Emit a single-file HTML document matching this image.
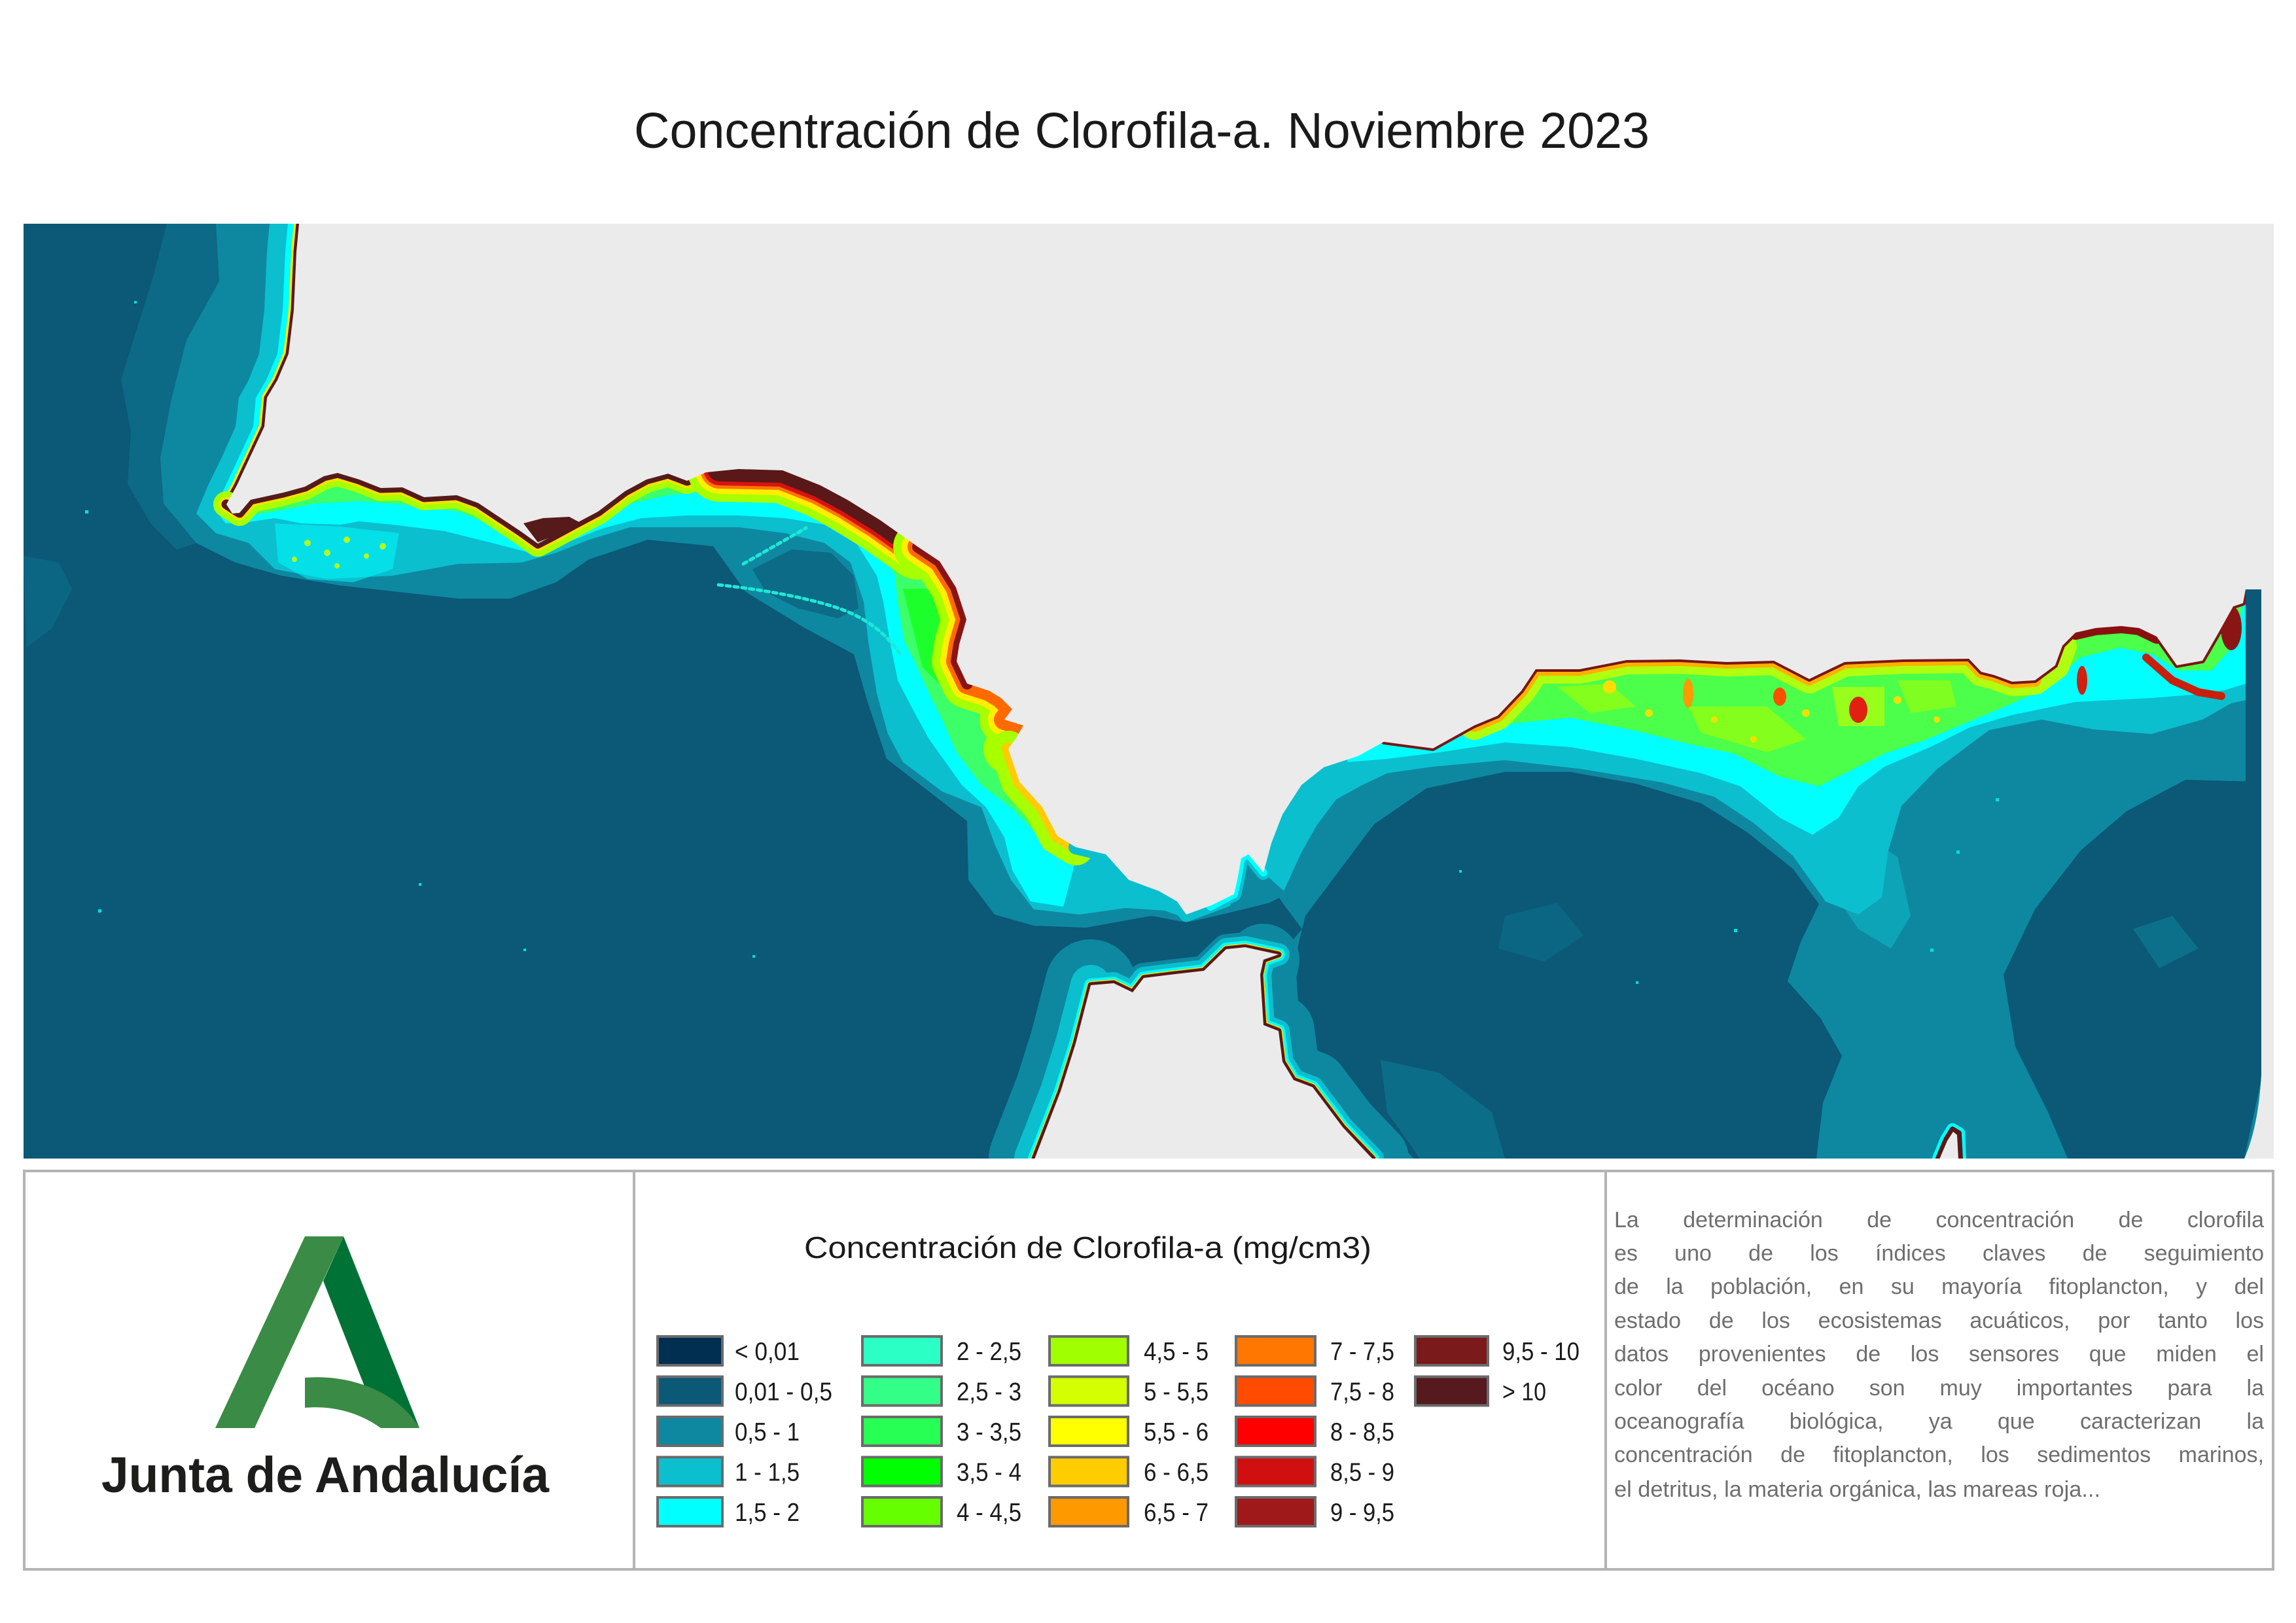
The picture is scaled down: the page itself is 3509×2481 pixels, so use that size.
<!DOCTYPE html>
<html><head><meta charset="utf-8">
<style>
html,body{margin:0;padding:0;background:#fff;}
body{width:3509px;height:2481px;position:relative;overflow:hidden;}
.p{position:absolute;left:2467px;width:993px;font-family:"Liberation Sans",sans-serif;font-size:34px;line-height:51.4px;height:51.4px;color:#6e6e6e;text-align:justify;text-align-last:justify;}
</style></head>
<body>
<svg width="3509" height="2481" viewBox="0 0 3509 2481" style="position:absolute;left:0;top:0" font-family="Liberation Sans, sans-serif">
<defs>
<clipPath id="dc"><path d="M36,342 H3456 V1640 Q3452,1720 3430,1771 H36 Z"/></clipPath>
<clipPath id="mc"><rect x="36" y="342" width="3439" height="1429"/></clipPath>
</defs>

<!-- Title -->
<text x="969" y="226" font-size="77" fill="#1a1a1a" textLength="1552" lengthAdjust="spacingAndGlyphs">Concentración de Clorofila-a. Noviembre 2023</text>

<!-- MAP -->
<rect x="36" y="342" width="3439" height="1429" fill="#ebebeb"/>
<g clip-path="url(#dc)" stroke-linejoin="round" stroke-linecap="round">
<rect x="36" y="342" width="3420" height="1429" fill="#0b5877"/>

<!-- Atlantic patchy teal offshore Portugal -->
<path d="M330,342 L255,342 235,420 210,500 185,580 200,660 195,740 230,800 270,840 300,830 250,770 245,700 262,610 285,520 335,430 Z" fill="#0e88a0" opacity="0.4"/>
<path d="M36,850 L90,860 110,900 80,960 40,990 Z" fill="#0e88a0" opacity="0.3"/>

<!-- Atlantic teal -->
<path d="M330,342 L335,430 285,520 262,610 245,700 250,770 300,830 360,860 430,880 520,895 610,905 700,915 780,915 850,890 900,855 990,825 1090,835 1140,905 1230,960 1305,1000 1325,1070 1355,1160 1420,1210 1478,1255 1480,1345 1520,1398 1580,1415 1660,1418 1760,1400 1813,1410 1850,1402 1900,1390 1940,1380 1960,1370 1960,1250 1700,1100 1500,800 700,600 600,342 Z" fill="#0e88a0"/>
<!-- Gulf inner darker patch -->
<path d="M1150,870 L1210,840 1270,845 1305,880 1312,930 1280,945 1220,930 1170,905 Z" fill="#0b5877" opacity="0.6"/>

<!-- Alboran teal -->
<path d="M1931,1334 L1960,1380 1990,1420 1960,1456 1954,1459 1980,1480 2030,1600 2098,1771 3456,1771 3456,900 1950,900 Z" fill="#0e88a0"/>
<!-- West gyre -->
<path d="M1995,1400 L2040,1340 2100,1260 2180,1205 2300,1180 2400,1180 2500,1198 2600,1228 2670,1272 2740,1328 2780,1382 2752,1440 2732,1500 2782,1556 2815,1614 2786,1686 2776,1771 2160,1771 2100,1700 2030,1640 1990,1580 1975,1500 1985,1440 Z" fill="#0b5877"/>
<path d="M2110,1620 L2200,1640 2280,1700 2300,1771 2170,1771 2120,1700 Z" fill="#0e88a0" opacity="0.45"/>
<path d="M2300,1400 L2380,1380 2420,1430 2360,1470 2290,1450 Z" fill="#0e88a0" opacity="0.3"/>
<!-- East gyre -->
<path d="M3456,1195 L3340,1192 3250,1240 3180,1300 3110,1390 3062,1490 3080,1600 3130,1700 3160,1771 3430,1771 3456,1650 Z" fill="#0b5877"/>
<path d="M3260,1420 L3320,1400 3360,1450 3300,1480 Z" fill="#0e88a0" opacity="0.5"/>

<!-- Atlantic 1-1.5 -->
<path d="M412,342 L408,385 404,474 396,541 380,581 365,608 360,652 340,697 318,742 300,785 330,815 380,830 420,870 500,885 600,880 700,862 797,860 850,845 900,825 963,806 1050,806 1129,806 1200,815 1260,830 1300,860 1320,920 1327,980 1340,1060 1357,1122 1380,1165 1440,1210 1500,1234 1520,1290 1545,1345 1580,1390 1650,1398 1720,1388 1780,1392 1813,1404 1850,1396 1880,1385 1900,1300 1700,1100 1500,800 700,600 600,342 Z" fill="#0bbfcf"/>

<!-- Alboran 1-1.5 -->
<path d="M1931,1334 L1962,1362 1988,1305 2012,1262 2042,1222 2082,1200 2120,1182 2190,1172 2300,1162 2420,1176 2540,1196 2620,1218 2680,1258 2740,1308 2790,1378 2840,1398 2876,1372 2886,1300 2906,1232 2960,1176 3040,1116 3120,1100 3200,1115 3288,1122 3366,1100 3410,1075 3456,1065 3456,900 1950,900 Z" fill="#0bbfcf"/>
<path d="M2760,1300 L2840,1270 2900,1310 2920,1400 2890,1450 2840,1420 Z" fill="#0bbfcf" opacity="0.5"/>

<!-- Atlantic cyan -->
<path d="M440,342 L436,385 432,474 424,541 407,581 391,608 387,652 366,697 345,742 328,778 345,800 380,798 420,792 460,800 520,802 549,797 600,802 680,812 760,832 822,848 860,832 920,808 980,792 1050,788 1129,788 1200,792 1260,802 1310,832 1340,880 1350,920 1360,980 1372,1040 1398,1090 1420,1130 1470,1200 1507,1234 1535,1280 1547,1330 1575,1378 1625,1386 1640,1330 1644,1295 1700,1200 1500,800 700,600 600,342 Z" fill="#00ffff"/>
<!-- Algarve dotted zone -->
<path d="M420,800 L520,805 610,815 600,870 540,890 470,885 425,860 Z" fill="#00ffff" opacity="0.5"/>
<g fill="#b0ff20">
<circle cx="470" cy="830" r="5"/><circle cx="500" cy="845" r="5"/><circle cx="530" cy="825" r="5"/><circle cx="560" cy="850" r="4"/><circle cx="585" cy="835" r="5"/><circle cx="450" cy="855" r="4"/><circle cx="515" cy="865" r="4"/>
</g>

<!-- Alboran cyan -->
<path d="M2060,1165 L2120,1160 2200,1150 2300,1135 2400,1142 2500,1160 2600,1182 2660,1202 2720,1250 2770,1276 2810,1250 2840,1202 2880,1172 2950,1142 3010,1112 3075,1093 3172,1073 3288,1067 3350,1062 3400,1055 3432,1045 3432,900 1990,900 Z" fill="#00ffff"/>

<!-- Atlantic green -->
<path d="M346,771 L350,792 380,788 420,782 480,770 549,766 620,772 700,782 760,806 822,840 870,816 920,796 963,770 1020,757 1080,752 1129,752 1200,760 1260,775 1310,800 1345,832 1368,880 1372,920 1382,980 1398,1011 1420,1060 1440,1100 1462,1150 1500,1200 1547,1236 1572,1262 1600,1292 1644,1295 1700,1100 1500,800 700,600 500,600 Z" fill="#3cff6a"/>
<path d="M1380,900 L1440,900 1470,1000 1450,1060 1410,1020 Z" fill="#10ff10" opacity="0.7"/>

<!-- Alboran green -->
<path d="M2240,1117 L2300,1107 2400,1097 2500,1117 2580,1137 2650,1152 2720,1187 2780,1202 2830,1177 2880,1152 2940,1132 3000,1107 3060,1082 3110,1060 3150,1030 3180,1005 3240,990 3290,1000 3330,1025 3380,1025 3415,985 3432,903 2240,900 Z" fill="#4cff4a"/>
<path d="M2580,1080 L2700,1080 2760,1130 2700,1150 2600,1120 Z" fill="#aaff00" opacity="0.6"/>
<path d="M2800,1050 L2880,1050 2880,1110 2810,1110 Z" fill="#ccff00" opacity="0.6"/>
<path d="M2380,1050 L2460,1045 2500,1080 2430,1090 Z" fill="#aaff00" opacity="0.6"/>
<path d="M2900,1040 L2980,1040 2990,1080 2920,1090 Z" fill="#aaff00" opacity="0.55"/>
<g fill="#ffdd00" opacity="0.9">
<circle cx="2330" cy="1070" r="6"/><circle cx="2520" cy="1090" r="6"/><circle cx="2620" cy="1100" r="5"/><circle cx="2760" cy="1090" r="6"/><circle cx="2900" cy="1070" r="6"/><circle cx="2960" cy="1100" r="5"/><circle cx="2680" cy="1130" r="5"/>
</g>

<!-- Coastal strokes: Portugal -->
<path d="M457,342 L453,385 449,474 441,541 424,581 408,608 404,652 383,697 362,742 346,771" fill="none" stroke="#ffee00" stroke-width="16"/>
<path d="M457,342 L453,385 449,474 441,541 424,581 408,608 404,652 383,697 362,742 346,771" fill="none" stroke="#5a1818" stroke-width="9"/>
<!-- Algarve / Huelva -->
<path d="M346,771 L366,784 383,764 433,753 466,744 495,728 516,723 549,733 582,746 615,745 648,760 698,757 731,769 764,791 797,813 822,831 847,818 880,800 914,782 955,751 988,733 1021,724 1050,735 1079,722 1129,717 1196,719" fill="none" stroke="#a8ff00" stroke-width="40"/>
<path d="M346,771 L366,784 383,764 433,753 466,744 495,728 516,723 549,733 582,746 615,745 648,760 698,757 731,769 764,791 797,813 822,831 847,818 880,800 914,782 955,751 988,733 1021,724 1050,735 1079,722 1129,717 1196,719" fill="none" stroke="#ffe000" stroke-width="22"/>
<path d="M346,771 L366,784 383,764 433,753 466,744 495,728 516,723 549,733 582,746 615,745 648,760 698,757 731,769 764,791 797,813 822,831 847,818 880,800 914,782 955,751 988,733 1021,724 1050,735 1079,722 1129,717 1196,719" fill="none" stroke="#561a1a" stroke-width="15"/>
<!-- Cadiz heavy -->
<path d="M1100,717 L1196,719 1254,742 1295,764 1345,795 1403,836" fill="none" stroke="#a8ff00" stroke-width="100"/>
<path d="M1100,717 L1196,719 1254,742 1295,764 1345,795 1403,836" fill="none" stroke="#ffee00" stroke-width="76"/>
<path d="M1100,717 L1196,719 1254,742 1295,764 1345,795 1403,836" fill="none" stroke="#ff7700" stroke-width="60"/>
<path d="M1100,717 L1196,719 1254,742 1295,764 1345,795 1403,836" fill="none" stroke="#d81410" stroke-width="50"/>
<path d="M1100,717 L1196,719 1254,742 1295,764 1345,795 1403,836" fill="none" stroke="#5a1818" stroke-width="38"/>
<path d="M1403,836 L1436,858 1461,898 1477,947 1466,985 1462,1011 1478,1045 1512,1056 1530,1067 1547,1084 1535,1100 1564,1109 1553,1128 1541,1145" fill="none" stroke="#a8ff00" stroke-width="76"/>
<path d="M1403,836 L1436,858 1461,898 1477,947 1466,985 1462,1011 1478,1045 1512,1056 1530,1067 1547,1084 1535,1100 1564,1109 1553,1128 1541,1145" fill="none" stroke="#ffee00" stroke-width="50"/>
<path d="M1403,836 L1436,858 1461,898 1477,947 1466,985 1462,1011 1478,1045 1512,1056 1530,1067 1547,1084 1535,1100 1564,1109 1553,1128 1541,1145" fill="none" stroke="#ff6a00" stroke-width="32"/>
<path d="M1403,836 L1436,858 1461,898 1477,947 1466,985 1462,1011 1478,1045" fill="none" stroke="#8a1414" stroke-width="18"/>
<path d="M1541,1145 L1558,1195 1593,1234 1616,1278 1644,1295" fill="none" stroke="#a8ff00" stroke-width="56"/>
<path d="M1541,1145 L1558,1195 1593,1234 1616,1278 1644,1295" fill="none" stroke="#ffcc00" stroke-width="20"/>
<!-- Strait Spain -->
<path d="M1644,1295 L1690,1306 1725,1345 1771,1362 1799,1378 1813,1398 1851,1384 1886,1367 1891,1345 1897,1312 1908,1306 1931,1334" fill="none" stroke="#0bbfcf" stroke-width="22"/>
<path d="M1850,1386 L1886,1367 1891,1345 1897,1312 1908,1306 1931,1334" fill="none" stroke="#00ffff" stroke-width="12"/>

<!-- Africa -->
<path d="M1581,1771 L1621,1668 1644,1595 1667,1506" fill="none" stroke="#0e88a0" stroke-width="140"/>
<path d="M1667,1506 L1702,1503 1731,1517 1748,1495 1788,1490 1840,1484 1874,1451 1903,1448 1926,1453 1954,1459" fill="none" stroke="#0e88a0" stroke-width="46"/>
<path d="M1931,1467 L1926,1490 1931,1567 1954,1576 1960,1623 1977,1651 2006,1662 2052,1723 2098,1771" fill="none" stroke="#0e88a0" stroke-width="110"/>
<path d="M1581,1771 L1621,1668 1644,1595 1667,1506" fill="none" stroke="#0bbfcf" stroke-width="62"/>
<path d="M1581,1771 L1621,1668 1644,1595 1667,1506 1702,1503 1731,1517 1748,1495 1788,1490 1840,1484 1874,1451 1903,1448 1926,1453 1954,1459 1931,1467 1926,1490 1931,1567 1954,1576 1960,1623 1977,1651 2006,1662 2052,1723 2098,1771" fill="none" stroke="#0bbfcf" stroke-width="34"/>
<path d="M1581,1771 L1621,1668 1644,1595 1667,1506 1702,1503 1731,1517 1748,1495 1788,1490 1840,1484 1874,1451 1903,1448 1926,1453 1954,1459 1931,1467 1926,1490 1931,1567 1954,1576 1960,1623 1977,1651 2006,1662 2052,1723 2098,1771" fill="none" stroke="#00ffff" stroke-width="20"/>
<path d="M1581,1771 L1621,1668 1644,1595 1667,1506 1702,1503 1731,1517 1748,1495 1788,1490 1840,1484 1874,1451 1903,1448 1926,1453 1954,1459 1931,1467 1926,1490 1931,1567 1954,1576 1960,1623 1977,1651 2006,1662 2052,1723 2098,1771" fill="none" stroke="#ffdd00" stroke-width="12"/>
<path d="M1581,1771 L1621,1668 1644,1595 1667,1506 1702,1503 1731,1517 1748,1495 1788,1490 1840,1484 1874,1451 1903,1448 1926,1453 1954,1459 1931,1467 1926,1490 1931,1567 1954,1576 1960,1623 1977,1651 2006,1662 2052,1723 2098,1771" fill="none" stroke="#5a1818" stroke-width="9"/>
<path d="M2962,1771 L2974,1742 2984,1726 2994,1732 2996,1771" fill="none" stroke="#00ffff" stroke-width="18"/>
<path d="M2962,1771 L2974,1742 2984,1726 2994,1732 2996,1771" fill="none" stroke="#5a1818" stroke-width="8"/>

<!-- Alboran coast -->
<path d="M2253,1109 L2289,1094 2325,1056 2347,1023 2414,1023 2486,1009 2567,1008 2639,1012 2711,1010 2765,1038 2819,1012 2909,1008 3009,1007 3028,1027 3048,1032 3075,1042 3110,1040 3141,1017 3152,987" fill="none" stroke="#b0ff10" stroke-width="44"/>
<path d="M2253,1109 L2289,1094 2325,1056 2347,1023 2414,1023 2486,1009 2567,1008 2639,1012 2711,1010 2765,1038 2819,1012 2909,1008 3009,1007 3028,1027 3048,1032 3075,1042 3110,1040" fill="none" stroke="#ffb000" stroke-width="20"/>
<path d="M2115,1134 L2190,1144 2253,1109 2289,1094 2325,1056 2347,1023 2414,1023 2486,1009 2567,1008 2639,1012 2711,1010 2765,1038 2819,1012 2909,1008 3009,1007 3028,1027 3048,1032 3075,1042 3110,1040 3141,1017 3152,987 3172,967 3203,960 3242,957 3269,960 3296,973 3327,1017 3366,1010 3389,970 3413,927 3428,922 3432,901" fill="none" stroke="#7a1616" stroke-width="8"/>
<path d="M3172,967 L3203,960 3242,957 3269,960 3296,973" fill="none" stroke="#8a1010" stroke-width="22"/>
<path d="M3280,1005 L3320,1040 3360,1058 3395,1064" fill="none" stroke="#c8200c" stroke-width="12"/>
<ellipse cx="3410" cy="960" rx="16" ry="34" fill="#8a1515"/>
<ellipse cx="2840" cy="1085" rx="14" ry="20" fill="#e02010"/>
<ellipse cx="3182" cy="1040" rx="8" ry="22" fill="#d02010"/>
<ellipse cx="2720" cy="1065" rx="10" ry="14" fill="#ff5000"/>
<ellipse cx="2580" cy="1060" rx="8" ry="22" fill="#ff9900"/>
<ellipse cx="2460" cy="1050" rx="10" ry="10" fill="#ffdd00"/>

<!-- Right dark strip -->
<rect x="3432" y="901" width="24" height="300" fill="#0b5877"/>

<!-- dotted lines in Gulf -->
<path d="M1098,894 Q1200,905 1270,926 T1375,999" fill="none" stroke="#1ee8d8" stroke-width="5" stroke-dasharray="6 6"/>
<path d="M1136,862 L1232,807" fill="none" stroke="#1ee8d8" stroke-width="5" stroke-dasharray="6 6"/>

<!-- speckles -->
<g fill="#00e0e0">
<rect x="130" y="780" width="5" height="5"/><rect x="205" y="460" width="4" height="4"/><rect x="150" y="1390" width="5" height="5"/>
<rect x="640" y="1350" width="4" height="4"/><rect x="800" y="1450" width="4" height="4"/><rect x="1150" y="1460" width="4" height="4"/>
<rect x="2500" y="1500" width="4" height="4"/><rect x="2650" y="1420" width="5" height="5"/><rect x="2950" y="1450" width="5" height="5"/>
<rect x="3050" y="1220" width="5" height="5"/><rect x="2990" y="1300" width="5" height="5"/><rect x="2230" y="1330" width="4" height="4"/>
</g>
</g>

<!-- LAND -->
<g clip-path="url(#mc)" fill="#ebebeb">
<path d="M457,342 L453,385 449,474 441,541 424,581 408,608 404,652 383,697 362,742 346,771 355,785 366,784 383,764 433,753 466,744 495,728 516,723 549,733 582,746 615,745 648,760 698,757 731,769 764,791 797,813 822,831 847,818 880,800 914,782 955,751 988,733 1021,724 1050,735 1079,722 1129,717 1196,719 1254,742 1295,764 1345,795 1403,836 1436,858 1461,898 1477,947 1466,985 1462,1011 1478,1045 1512,1056 1530,1067 1547,1084 1535,1100 1564,1109 1553,1128 1541,1145 1558,1195 1593,1234 1616,1278 1644,1295 1690,1306 1725,1345 1771,1362 1799,1378 1813,1398 1851,1384 1886,1367 1891,1345 1897,1312 1908,1306 1931,1334 1943,1289 1960,1245 1989,1200 2023,1173 2075,1156 2115,1134 2190,1144 2253,1109 2289,1094 2325,1056 2347,1023 2414,1023 2486,1009 2567,1008 2639,1012 2711,1010 2765,1038 2819,1012 2909,1008 3009,1007 3028,1027 3048,1032 3075,1042 3110,1040 3141,1017 3152,987 3172,967 3203,960 3242,957 3269,960 3296,973 3327,1017 3366,1010 3389,970 3413,927 3428,922 3432,901 3476,901 3476,342 Z"/>
<path d="M1581,1772 L1621,1668 1644,1595 1667,1506 1702,1503 1731,1517 1748,1495 1788,1490 1840,1484 1874,1451 1903,1448 1926,1453 1954,1459 1931,1467 1926,1490 1931,1567 1954,1576 1960,1623 1977,1651 2006,1662 2052,1723 2098,1772 Z"/>
<path d="M2964,1772 L2976,1744 2985,1730 2991,1735 2993,1772 Z"/>
</g>
<path d="M800,800 L830,792 870,790 885,798 850,818 822,829 Z" fill="#561a1a"/>

<!-- BOTTOM BOX -->
<rect x="37" y="1790" width="3437" height="609" fill="none" stroke="#b4b4b4" stroke-width="4"/>
<line x1="969" y1="1790" x2="969" y2="2399" stroke="#b4b4b4" stroke-width="4"/>
<line x1="2454" y1="1790" x2="2454" y2="2399" stroke="#b4b4b4" stroke-width="4"/>

<!-- Logo -->
<polygon points="329,2183 389,2183 525,1890 466,1890" fill="#3a8b45"/>
<polygon points="525,1890 641,2183 582,2183 494,1958" fill="#007236"/>
<path d="M466,2106 C540,2100 610,2130 641,2183 L582,2183 C550,2160 510,2148 466,2152 Z" fill="#3a8b45"/>
<text x="155" y="2281" font-size="77" font-weight="bold" fill="#1d1d1b" textLength="684" lengthAdjust="spacingAndGlyphs">Junta de Andalucía</text>

<!-- Legend -->
<text x="1229" y="1923" font-size="46" fill="#1a1a1a" textLength="867" lengthAdjust="spacingAndGlyphs">Concentración de Clorofila-a (mg/cm3)</text>
<g stroke="#6b6b6b" stroke-width="4">
<rect x="1005" y="2043" width="99" height="44" fill="#002f52"/>
<rect x="1005" y="2104.5" width="99" height="44" fill="#0b5877"/>
<rect x="1005" y="2166" width="99" height="44" fill="#0e88a0"/>
<rect x="1005" y="2227.5" width="99" height="44" fill="#0bbfcf"/>
<rect x="1005" y="2289" width="99" height="44" fill="#00ffff"/>
<rect x="1318" y="2043" width="121" height="44" fill="#2bffc6"/>
<rect x="1318" y="2104.5" width="121" height="44" fill="#33ff88"/>
<rect x="1318" y="2166" width="121" height="44" fill="#28ff55"/>
<rect x="1318" y="2227.5" width="121" height="44" fill="#00ff00"/>
<rect x="1318" y="2289" width="121" height="44" fill="#66ff00"/>
<rect x="1604" y="2043" width="120" height="44" fill="#a0ff00"/>
<rect x="1604" y="2104.5" width="120" height="44" fill="#d4ff00"/>
<rect x="1604" y="2166" width="120" height="44" fill="#ffff00"/>
<rect x="1604" y="2227.5" width="120" height="44" fill="#ffcc00"/>
<rect x="1604" y="2289" width="120" height="44" fill="#ff9900"/>
<rect x="1889" y="2043" width="121" height="44" fill="#ff7700"/>
<rect x="1889" y="2104.5" width="121" height="44" fill="#ff4c00"/>
<rect x="1889" y="2166" width="121" height="44" fill="#ff0000"/>
<rect x="1889" y="2227.5" width="121" height="44" fill="#d01010"/>
<rect x="1889" y="2289" width="121" height="44" fill="#a0191a"/>
<rect x="2163" y="2043" width="111" height="44" fill="#7b1a1a"/>
<rect x="2163" y="2104.5" width="111" height="44" fill="#561a1e"/>
</g>
<g font-size="39" fill="#1a1a1a">
<text x="1123" y="2079" textLength="99" lengthAdjust="spacingAndGlyphs">&lt; 0,01</text>
<text x="1123" y="2140.5" textLength="149" lengthAdjust="spacingAndGlyphs">0,01 - 0,5</text>
<text x="1123" y="2202" textLength="99" lengthAdjust="spacingAndGlyphs">0,5 - 1</text>
<text x="1123" y="2263.5" textLength="99" lengthAdjust="spacingAndGlyphs">1 - 1,5</text>
<text x="1123" y="2325" textLength="99" lengthAdjust="spacingAndGlyphs">1,5 - 2</text>
<text x="1462" y="2079" textLength="99" lengthAdjust="spacingAndGlyphs">2 - 2,5</text>
<text x="1462" y="2140.5" textLength="99" lengthAdjust="spacingAndGlyphs">2,5 - 3</text>
<text x="1462" y="2202" textLength="99" lengthAdjust="spacingAndGlyphs">3 - 3,5</text>
<text x="1462" y="2263.5" textLength="99" lengthAdjust="spacingAndGlyphs">3,5 - 4</text>
<text x="1462" y="2325" textLength="99" lengthAdjust="spacingAndGlyphs">4 - 4,5</text>
<text x="1748" y="2079" textLength="99" lengthAdjust="spacingAndGlyphs">4,5 - 5</text>
<text x="1748" y="2140.5" textLength="99" lengthAdjust="spacingAndGlyphs">5 - 5,5</text>
<text x="1748" y="2202" textLength="99" lengthAdjust="spacingAndGlyphs">5,5 - 6</text>
<text x="1748" y="2263.5" textLength="99" lengthAdjust="spacingAndGlyphs">6 - 6,5</text>
<text x="1748" y="2325" textLength="99" lengthAdjust="spacingAndGlyphs">6,5 - 7</text>
<text x="2033" y="2079" textLength="98" lengthAdjust="spacingAndGlyphs">7 - 7,5</text>
<text x="2033" y="2140.5" textLength="98" lengthAdjust="spacingAndGlyphs">7,5 - 8</text>
<text x="2033" y="2202" textLength="98" lengthAdjust="spacingAndGlyphs">8 - 8,5</text>
<text x="2033" y="2263.5" textLength="98" lengthAdjust="spacingAndGlyphs">8,5 - 9</text>
<text x="2033" y="2325" textLength="98" lengthAdjust="spacingAndGlyphs">9 - 9,5</text>
<text x="2296" y="2079" textLength="118" lengthAdjust="spacingAndGlyphs">9,5 - 10</text>
<text x="2296" y="2140.5" textLength="67" lengthAdjust="spacingAndGlyphs">&gt; 10</text>
</g>

<!-- last paragraph line -->
<text x="2467" y="2288" font-size="34" fill="#6e6e6e" textLength="743" lengthAdjust="spacingAndGlyphs">el detritus, la materia orgánica, las mareas roja...</text>
</svg>

<div class="p" style="top:1839.5px">La determinación de concentración de clorofila</div>
<div class="p" style="top:1890.9px">es uno de los índices claves de seguimiento</div>
<div class="p" style="top:1942.3px">de la población, en su mayoría fitoplancton, y del</div>
<div class="p" style="top:1993.7px">estado de los ecosistemas acuáticos, por tanto los</div>
<div class="p" style="top:2045.1px">datos provenientes de los sensores que miden el</div>
<div class="p" style="top:2096.5px">color del océano son muy importantes para la</div>
<div class="p" style="top:2147.9px">oceanografía biológica, ya que caracterizan la</div>
<div class="p" style="top:2199.3px">concentración de fitoplancton, los sedimentos marinos,</div>
</body></html>
